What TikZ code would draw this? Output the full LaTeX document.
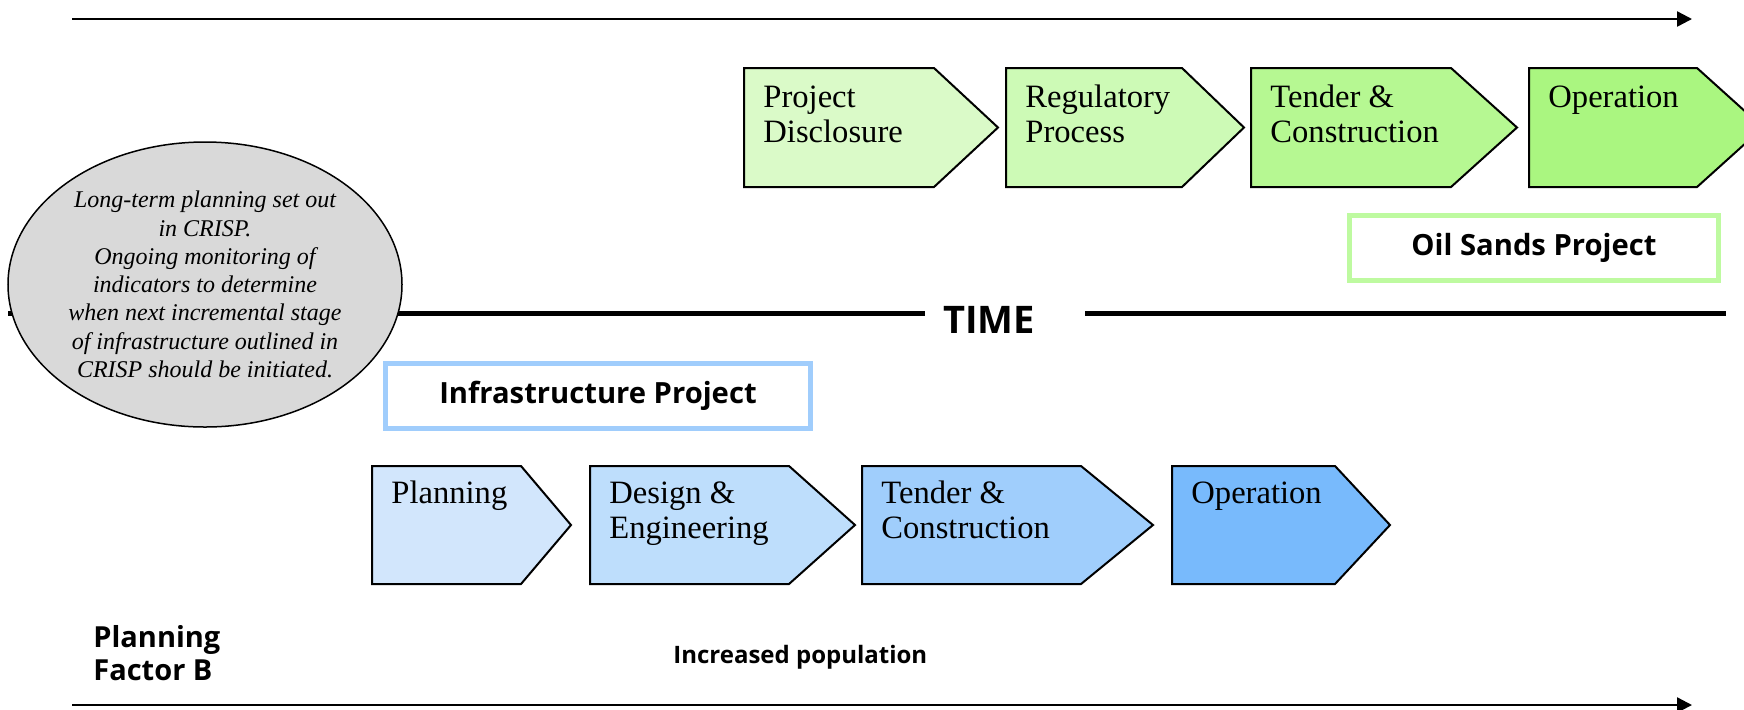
\documentclass[tikz,border=0pt]{standalone}
\usepackage{fontspec}
\setmainfont{Liberation Serif}
\newfontfamily\labelfont{Open Sans}
\usetikzlibrary{arrows.meta,shapes.geometric}

\definecolor{osA}{RGB}{218,250,200}
\definecolor{osB}{RGB}{205,250,182}
\definecolor{osC}{RGB}{182,248,146}
\definecolor{osD}{RGB}{170,246,128}
\definecolor{osFrame}{RGB}{190,250,160}
\definecolor{ipA}{RGB}{210,230,252}
\definecolor{ipB}{RGB}{190,222,252}
\definecolor{ipC}{RGB}{160,206,252}
\definecolor{ipD}{RGB}{120,186,252}
\definecolor{ipFrame}{RGB}{160,205,252}

% lines hanging from the first baseline
\newcommand{\toplines}[1]{\begin{tabular}[t]{@{}l@{}}#1\end{tabular}}

\begin{document}
\begin{tikzpicture}[x=0.5pt,y=-0.5pt,
  stage/.style={draw,line width=1pt,line join=miter},
  stage text/.style={anchor=base west,inner sep=0pt,font=\fontsize{16.3}{17.5}\selectfont},
  project box/.style={draw,line width=2.5pt,fill=white,minimum height=32.5pt,inner sep=0pt,
    font=\labelfont\bfseries\fontsize{14.6}{17}\selectfont},
  side label/.style={anchor=base west,inner sep=0pt,font=\labelfont\bfseries\fontsize{14.5}{16.5}\selectfont},
  time arrow/.style={line width=1.2pt,-{Triangle[length=7.5pt,width=7.5pt]}},
  time line/.style={line width=2.5pt}]

\useasboundingbox (0,0) rectangle (1744,709);

% time arrows
\coordinate (top0) at (72,19);
\coordinate (top1) at (1692,19);
\coordinate (bot0) at (72,705);
\coordinate (bot1) at (1692,705);
\draw[time arrow] (top0) -- (top1);
\draw[time arrow] (bot0) -- (bot1);

% TIME line
\node[anchor=base west,inner sep=0pt,font=\labelfont\bfseries\fontsize{19}{22}\selectfont] (time) at (943,333) {TIME};
\coordinate (tl0) at (8,313);
\coordinate (tl1) at (925,313);
\coordinate (tl2) at (1085,313);
\coordinate (tl3) at (1726,313);
\draw[time line] (tl0) -- (tl1);
\draw[time line] (tl2) -- (tl3);

% oil sands project
\filldraw[stage,fill=osA] (744,68) -- (934,68) -- (998,127.5) -- (934,187) -- (744,187) -- cycle;
\node[stage text] (disclosure) at (763,107) {\toplines{Project\\Disclosure}};
\filldraw[stage,fill=osB] (1006,68) -- (1182,68) -- (1244,127.5) -- (1182,187) -- (1006,187) -- cycle;
\node[stage text] (regulatory) at (1025,107) {\toplines{Regulatory\\Process}};
\filldraw[stage,fill=osC] (1251,68) -- (1451,68) -- (1517,127.5) -- (1451,187) -- (1251,187) -- cycle;
\node[stage text] (construction) at (1270,107) {\toplines{Tender \&\\Construction}};
\filldraw[stage,fill=osD] (1529,68) -- (1697,68) -- (1763,127.5) -- (1697,187) -- (1529,187) -- cycle;
\node[stage text] (operation) at (1548,107) {Operation};

\node[project box,draw=osFrame,minimum width=184.5pt] (oilsands) at (1534,248) {Oil Sands Project};

% infrastructure project
\node[project box,draw=ipFrame,minimum width=212.5pt] (infra) at (598,395.5) {Infrastructure Project};

\filldraw[stage,fill=ipA] (372,466) -- (521,466) -- (571,525) -- (521,584) -- (372,584) -- cycle;
\node[stage text] (planning) at (391,503) {Planning};
\filldraw[stage,fill=ipB] (590,466) -- (789,466) -- (855,525) -- (789,584) -- (590,584) -- cycle;
\node[stage text] (design) at (609,503) {\toplines{Design \&\\Engineering}};
\filldraw[stage,fill=ipC] (862,466) -- (1081,466) -- (1153,525) -- (1081,584) -- (862,584) -- cycle;
\node[stage text] (tender) at (881,503) {\toplines{Tender \&\\Construction}};
\filldraw[stage,fill=ipD] (1172,466) -- (1335,466) -- (1390,525) -- (1335,584) -- (1172,584) -- cycle;
\node[stage text] (operate) at (1191,503) {Operation};

% long-term planning
\node[ellipse,draw,line width=0.75pt,fill=black!15,minimum width=197pt,minimum height=142.5pt,inner sep=0pt,
  align=center,font=\itshape\fontsize{12}{14.15}\selectfont] (crisp) at (205,284.5)
  {Long-term planning set out\\in CRISP.\\Ongoing monitoring of\\indicators to determine\\when next incremental stage\\of infrastructure outlined in\\CRISP should be initiated.};

\node[side label] (factor) at (93,647) {\toplines{Planning\\Factor B}};
\node[side label,font=\labelfont\bfseries\fontsize{12}{14}\selectfont] (population) at (673,663) {Increased population};

\end{tikzpicture}
\end{document}
